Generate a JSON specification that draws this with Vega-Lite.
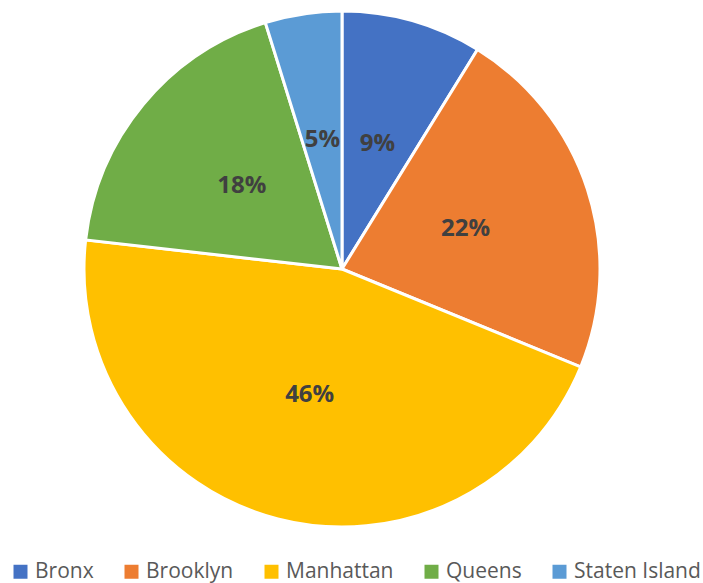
{
  "$schema": "https://vega.github.io/schema/vega-lite/v6.json",
  "width": 684,
  "height": 538,
  "autosize": {"type": "none"},
  "padding": {"left": 0, "top": 0, "right": 19, "bottom": 45},
  "background": "white",
  "data": {
    "values": [
      {"borough": "Bronx", "share": 0.088},
      {"borough": "Brooklyn", "share": 0.224},
      {"borough": "Manhattan", "share": 0.456},
      {"borough": "Queens", "share": 0.184},
      {"borough": "Staten Island", "share": 0.048}
    ]
  },
  "encoding": {
    "theta": {"field": "share", "type": "quantitative", "stack": true},
    "color": {
      "field": "borough",
      "type": "nominal",
      "scale": {
        "domain": ["Bronx", "Brooklyn", "Manhattan", "Queens", "Staten Island"],
        "range": ["#4472C4", "#ED7D31", "#FFC000", "#70AD47", "#5B9BD5"]
      },
      "legend": {
        "title": null,
        "orient": "none",
        "direction": "horizontal",
        "legendX": 10,
        "legendY": 561,
        "symbolType": "square",
        "symbolSize": 196,
        "symbolStrokeWidth": 0,
        "labelFont": "Open Sans",
        "labelFontSize": 21,
        "labelColor": "#595959",
        "labelOffset": 4,
        "columnPadding": 27,
        "labelLimit": 300
      }
    }
  },
  "layer": [
    {
      "mark": {"type": "arc", "outerRadius": 258, "stroke": "white", "strokeWidth": 3}
    },
    {
      "mark": {"type": "text", "radius": 130, "font": "Open Sans", "fontWeight": "bold", "fontSize": 24, "fill": "#404040"},
      "encoding": {
        "text": {"field": "share", "type": "quantitative", "format": ".0%"},
        "color": {"field": "borough", "type": "nominal", "legend": null}
      }
    }
  ],
  "config": {"view": {"stroke": null}}
}
